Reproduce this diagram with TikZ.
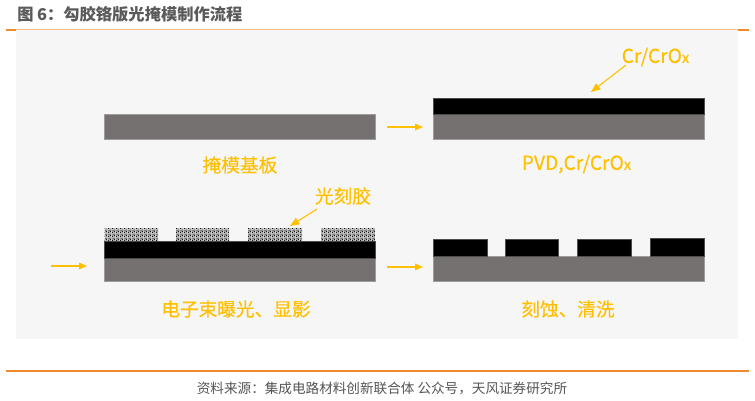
\documentclass[tikz,border=0pt]{standalone}
\usepackage{fontspec}
\usetikzlibrary{arrows.meta,patterns}
\setmainfont{Noto Sans CJK SC}
\newfontfamily\lblfont[FakeBold=0.35]{Noto Sans CJK SC}
\newfontfamily\latfont[FakeBold=0.15]{Noto Sans CJK SC}
\definecolor{accent}{HTML}{FFC000}
\definecolor{substrate}{HTML}{767171}
\definecolor{panelbg}{HTML}{F6F6F6}
\definecolor{rulelight}{HTML}{FAC090}
\definecolor{ruledark}{HTML}{F08A30}
\definecolor{titlegray}{HTML}{5A5A5A}
\definecolor{footgray}{HTML}{555555}
\pgfdeclarepatternformonly{resist}{\pgfqpoint{0pt}{0pt}}{\pgfqpoint{3pt}{3pt}}{\pgfqpoint{3pt}{3pt}}{
  \pgfpathcircle{\pgfqpoint{0.5pt}{0.6pt}}{0.6pt}
  \pgfpathcircle{\pgfqpoint{2.1pt}{1.2pt}}{0.6pt}
  \pgfpathcircle{\pgfqpoint{1.0pt}{2.4pt}}{0.55pt}
  \pgfpathcircle{\pgfqpoint{2.6pt}{2.6pt}}{0.4pt}
  \pgfusepath{fill}}
\tikzset{
  x=0.75pt,y=-0.75pt,
  layer/.style={anchor=north west,inner sep=0pt,outer sep=0pt,draw=#1!70!white,line width=0.4pt},
  base/.style={layer=substrate,fill=substrate},
  metal/.style={layer=black,fill=black},
  lbl/.style={text=accent,font=\lblfont\fontsize{14pt}{16pt}\selectfont,inner sep=0pt},
  latlbl/.style={text=accent,font=\latfont\fontsize{14.4pt}{16pt}\selectfont,inner sep=0pt},
  flow/.style={draw=accent,line width=0.9pt,-{Triangle[length=6pt,width=5pt]}},
  callout/.style={draw=accent,line width=0.8pt,-{Triangle[length=7pt,width=5.5pt]}},
}
\newcommand{\lay}[6]{%
  \node[#1,minimum width=#4*0.75pt,minimum height=#5*0.75pt] (#6) at (#2,#3) {};}
\newcommand{\resist}[4]{%
  \node[anchor=north west,inner sep=0pt,outer sep=0pt,fill=white!80!black,minimum width=#3*0.75pt,minimum height=13*0.75pt] (#4) at (#1,#2) {};
  \fill[pattern=resist,pattern color=black] (#1,#2) rectangle ++(#3,13);}
\begin{document}
\begin{tikzpicture}
\useasboundingbox (0,0) rectangle (755,400);
\fill[white] (0,0) rectangle (755,400);
\node[anchor=north west,inner sep=0,outer sep=0,fill=panelbg,minimum width=722*0.75pt,minimum height=309*0.75pt] (panel) at (16,30) {};
\draw[rulelight,line width=0.6pt] (16,29.5) -- (738,29.5);
\draw[ruledark,line width=0.8pt] (6,30) -- (16,30);
\draw[ruledark,line width=0.8pt] (738,30) -- (749,30);
\draw[ruledark,line width=1.0pt] (6,371) -- (749,371);
\node[anchor=west,inner sep=0,text=titlegray,font=\fontsize{12.2pt}{14pt}\selectfont\bfseries] (title) at (17,14) {图 6：勾胶铬版光掩模制作流程};
\node[inner sep=0,text=footgray,font=\fontsize{10.2pt}{12pt}\selectfont] (source) at (382,388) {资料来源：集成电路材料创新联合体 公众号，天风证券研究所};
% step 1
\lay{base}{104.5}{114.5}{270.5}{25}{s1}
\node[lbl] (l1) at (240,165) {掩模基板};
% step 2
\lay{base}{433.5}{114}{270.5}{25}{s2}
\lay{metal}{433.5}{98}{270.5}{16}{m2}
\node[latlbl] (l2) at (576.5,164) {PVD,Cr/CrO{\fontsize{11pt}{12pt}\selectfont x}};
\node[latlbl] (cr) at (655.5,57) {Cr/CrO{\fontsize{11pt}{12pt}\selectfont x}};
\coordinate (a1s) at (387,127);
\coordinate (a1e) at (423,127);
\draw[flow] (a1s) -- (a1e);
\coordinate (crs) at (626,65);
\coordinate (cre) at (591,92);
\draw[callout] (crs) -- (cre);
% step 3
\lay{base}{104.5}{258}{270.5}{23}{s3}
\lay{metal}{104.5}{241}{270.5}{17}{m3}
\resist{104.5}{228}{53.5}{r1}
\resist{176}{228}{53}{r2}
\resist{248}{228}{54}{r3}
\resist{321}{228}{54}{r4}
\node[lbl] (res) at (343,196) {光刻胶};
\coordinate (ress) at (317,209);
\coordinate (rese) at (290,226);
\draw[callout] (ress) -- (rese);
\node[lbl] (l3) at (236,309) {电子束曝光、显影};
\coordinate (a2s) at (51,266);
\coordinate (a2e) at (87,266);
\draw[flow] (a2s) -- (a2e);
% step 4
\lay{base}{433.5}{256}{270.5}{25}{s4}
\lay{metal}{433.5}{239}{53.5}{17}{m41}
\lay{metal}{505}{239}{53}{17}{m42}
\lay{metal}{577}{239}{54}{17}{m43}
\lay{metal}{650}{238.5}{54}{17.5}{m44}
\node[lbl] (l4) at (568,309) {刻蚀、清洗};
\coordinate (a3s) at (387,267);
\coordinate (a3e) at (423,267);
\draw[flow] (a3s) -- (a3e);
\end{tikzpicture}
\end{document}
